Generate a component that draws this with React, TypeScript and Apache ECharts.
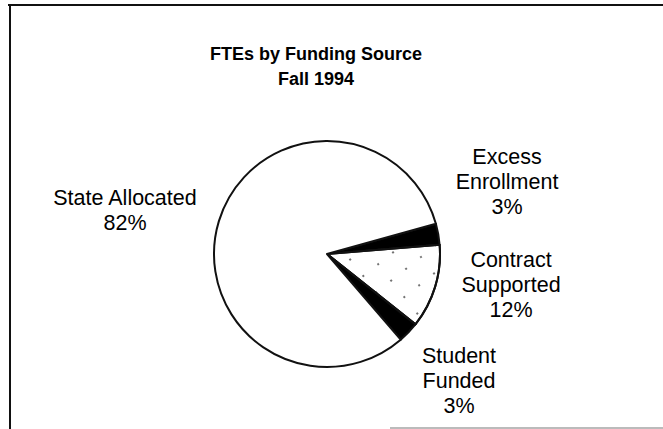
import React, { useEffect, useRef } from "react";
import * as echarts from "echarts";

const TITLE = "FTEs by Funding Source";
const SUBTITLE = "Fall 1994";
const categories = ["Excess\nEnrollment", "Contract\nSupported", "Student\nFunded", "State Allocated"];
const shares = [3, 12, 3, 82];
const sliceColors = ["#000000", "#ffffff", "#000000", "#ffffff"];

// label anchor positions (layout only)
const LABEL_POS: number[][] = [
  [507, 182],
  [511, 285],
  [459, 381],
  [125, 210],
];

export default function App() {
  const ref = useRef<HTMLDivElement>(null);
  useEffect(() => {
    if (!ref.current) return;
    const chart = echarts.init(ref.current, null, { renderer: "svg" });
    const font = "'Liberation Sans', Arial, sans-serif";
    chart.setOption({
      animation: false,
      backgroundColor: "#ffffff",
      title: {
        text: TITLE + "\n" + SUBTITLE,
        left: 311,
        top: 36,
        textAlign: "center",
        textStyle: {
          fontFamily: font,
          fontWeight: "bold",
          fontSize: 18,
          lineHeight: 25,
          color: "#000",
        },
      },
      graphic: [
        { type: "line", shape: { x1: 8, y1: 5, x2: 663, y2: 5 }, style: { stroke: "#111", lineWidth: 2 } },
        { type: "line", shape: { x1: 10, y1: 5, x2: 10, y2: 429 }, style: { stroke: "#111", lineWidth: 2 } },
        { type: "line", shape: { x1: 390, y1: 428, x2: 663, y2: 428 }, style: { stroke: "#bbb", lineWidth: 2 } },
      ],
      series: [
        {
          type: "pie",
          center: [327, 254],
          radius: [0, 113],
          startAngle: 15.5,
          clockwise: true,
          silent: true,
          itemStyle: { borderColor: "#111", borderWidth: 2 },
          labelLine: { show: false },
          label: {
            show: true,
            position: "outside",
            formatter: "{b}\n{c}%",
            fontFamily: font,
            fontSize: 21.5,
            lineHeight: 25,
            color: "#000",
            align: "center",
          },
          labelLayout: (params: any) => {
            const p = LABEL_POS[params.dataIndex];
            return { x: p[0], y: p[1], align: "center", verticalAlign: "middle" };
          },
          data: categories.map((name, i) => ({
            name,
            value: shares[i],
            itemStyle: {
              color: sliceColors[i],
              decal:
                i === 1
                  ? {
                      symbol: "rect",
                      symbolSize: 1,
                      color: "rgba(0,0,0,0.55)",
                      backgroundColor: "#ffffff",
                      dashArrayX: [2, 19],
                      dashArrayY: [2, 17],
                      rotation: 0.9,
                    }
                  : undefined,
            },
          })),
        },
      ],
    });
    return () => chart.dispose();
  }, []);
  return (
    <div
      ref={ref}
      style={{ position: "fixed", left: 0, top: 0, width: 663, height: 429 }}
    />
  );
}
